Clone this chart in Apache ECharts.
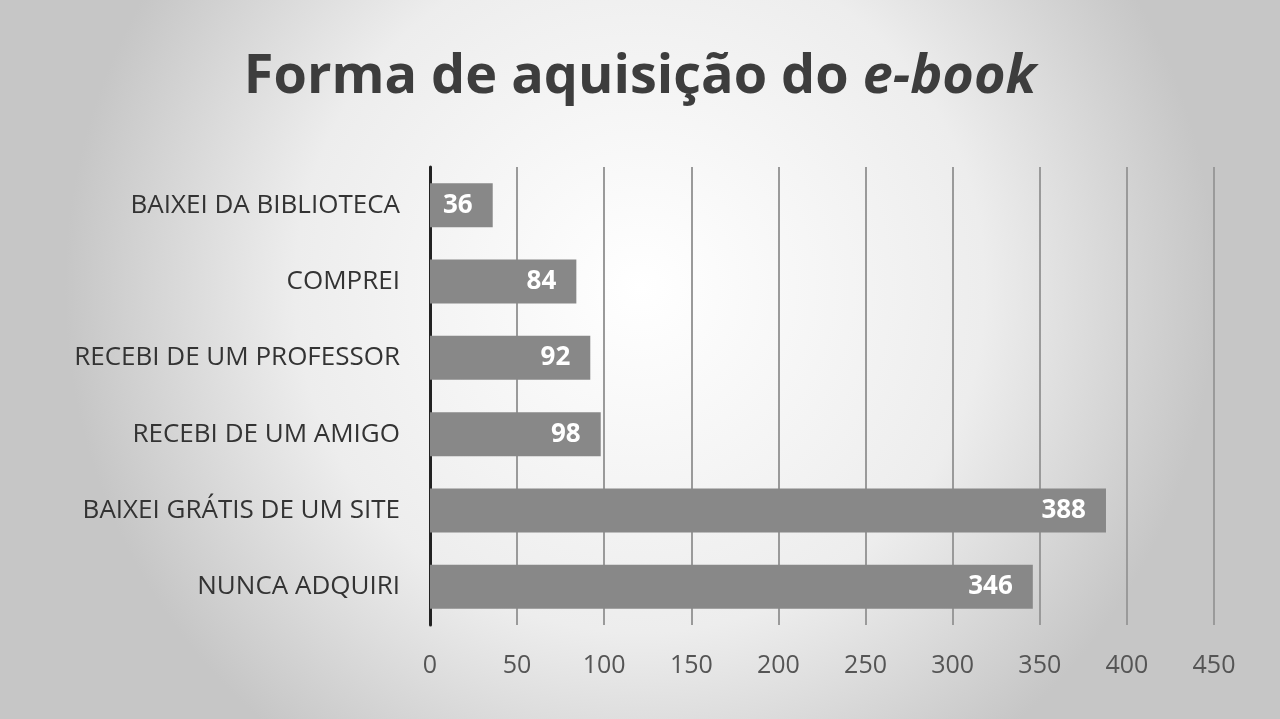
<!DOCTYPE html>
<html><head><meta charset="utf-8">
<script src="https://cdn.jsdelivr.net/npm/echarts@6/dist/echarts.min.js"></script>
<style>html,body{margin:0;padding:0;}#c{width:1280px;height:719px;}</style>
</head><body><div id="c"></div>
<script>
const categories = ['NUNCA ADQUIRI','BAIXEI GRÁTIS DE UM SITE','RECEBI DE UM AMIGO','RECEBI DE UM PROFESSOR','COMPREI','BAIXEI DA BIBLIOTECA'];
const values = [346,388,98,92,84,36];
const chart = echarts.init(document.getElementById('c'));
chart.setOption({
  backgroundColor: {type:'radial', x:0.5, y:0.4, r:0.8, colorStops:[{offset:0,color:'#ffffff'},{offset:0.6,color:'#ededed'},{offset:1,color:'#c6c6c6'}]},
  title: {text:'{n|Forma de aquisição do }{i|e-book}', left:'center', top:46,
    textStyle:{rich:{n:{fontSize:54,fontWeight:'bold',color:'#3d3d3d',fontFamily:'Open Sans'},i:{fontSize:54,fontWeight:'bold',fontStyle:'italic',color:'#3d3d3d',fontFamily:'Open Sans'}}}},
  grid: {left:430, right:66, top:167, bottom:94, containLabel:false},
  xAxis: {type:'value', min:0, max:450, interval:50,
    axisLine:{show:false}, axisTick:{show:false},
    splitLine:{lineStyle:{color:'#9a9a9a', width:2}},
    axisLabel:{fontSize:25, color:'#555', margin:28, fontFamily:'Open Sans'}},
  yAxis: {type:'category', data:categories,
    axisLine:{lineStyle:{color:'#222', width:3}}, axisTick:{show:false},
    axisLabel:{fontSize:26, color:'#333', margin:30, fontFamily:'Open Sans'}},
  series: [{type:'bar', data:values, barWidth:44, itemStyle:{color:'#888888'},
    label:{show:true, position:'insideRight', color:'#fff', fontWeight:'bold', fontSize:26, fontFamily:'Open Sans', distance:20}}]
});
</script></body></html>
